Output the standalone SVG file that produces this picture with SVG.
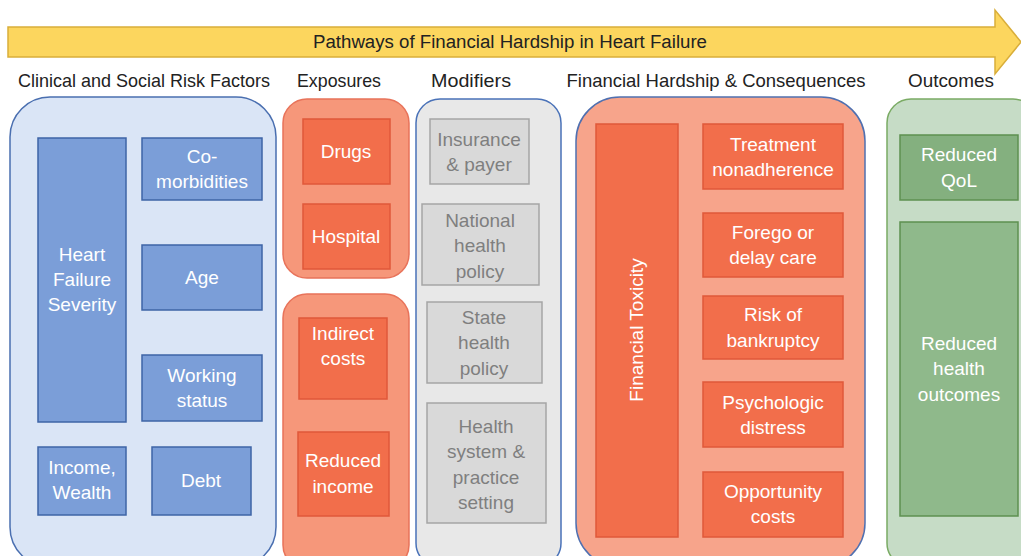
<svg xmlns="http://www.w3.org/2000/svg" width="1021" height="556" viewBox="0 0 1021 556">
  <style>
    text { font-family: "Liberation Sans", Arial, sans-serif; text-anchor: middle; }
    .hdr { font-size: 19px; fill: #222; }
    .title { font-size: 18px; fill: #222; }
    .lbl { font-size: 19px; fill: #ffffff; }
    .glbl { font-size: 19px; fill: #7f7f7f; }
    .pnl-blue { fill: #dae5f6; stroke: #4a6fb0; stroke-width: 1.5; }
    .pnl-exp { fill: #f6977a; stroke: #e8735a; stroke-width: 1.5; }
    .pnl-mod { fill: #e8e8e8; stroke: #4a72b8; stroke-width: 1.5; }
    .pnl-fin { fill: #f7a48b; stroke: #5070b0; stroke-width: 1.5; }
    .pnl-out { fill: #c6dcc6; stroke: #7aab64; stroke-width: 1.5; }
    .b-blue { fill: #7b9ed8; stroke: #3e64a6; stroke-width: 1.5; }
    .b-org { fill: #f26e4b; stroke: #e0583a; stroke-width: 1.5; }
    .b-gray { fill: #d9d9d9; stroke: #a5a5a5; stroke-width: 1.5; }
    .b-grn1 { fill: #84b07f; stroke: #5e9050; stroke-width: 1.5; }
    .b-grn2 { fill: #8fb98b; stroke: #5e9050; stroke-width: 1.5; }
  </style>

  <rect width="1021" height="556" fill="#ffffff"/>

  <!-- timeline arrow -->
  <g id="timeline">
    <path d="M8,27 H995 V10 L1021,42 L995,74 V57 H8 Z" fill="#fcd65e" stroke="#d9ae3a" stroke-width="1.5"/>
    <text class="title" x="510" y="48" textLength="394" lengthAdjust="spacingAndGlyphs">Pathways of Financial Hardship in Heart Failure</text>
  </g>

  <!-- column headings -->
  <g id="headings">
    <text class="hdr" x="144" y="87" textLength="252" lengthAdjust="spacingAndGlyphs">Clinical and Social Risk Factors</text>
    <text class="hdr" x="339" y="87" textLength="84" lengthAdjust="spacingAndGlyphs">Exposures</text>
    <text class="hdr" x="471" y="87" textLength="80" lengthAdjust="spacingAndGlyphs">Modifiers</text>
    <text class="hdr" x="716" y="87" textLength="299" lengthAdjust="spacingAndGlyphs">Financial Hardship &amp; Consequences</text>
    <text class="hdr" x="951" y="87" textLength="86" lengthAdjust="spacingAndGlyphs">Outcomes</text>
  </g>

  <!-- group panels -->
  <g id="panels">
    <rect id="panel-risk" class="pnl-blue" x="10" y="97" width="266" height="470" rx="40"/>
    <rect id="panel-exp-direct" class="pnl-exp" x="283" y="99" width="126" height="179" rx="24"/>
    <rect id="panel-exp-indirect" class="pnl-exp" x="283" y="294" width="126" height="275" rx="24"/>
    <rect id="panel-mod" class="pnl-mod" x="416" y="99" width="145" height="468" rx="24"/>
    <rect id="panel-fin" class="pnl-fin" x="576" y="97" width="289" height="470" rx="44"/>
    <rect id="panel-out" class="pnl-out" x="887" y="99" width="150" height="468" rx="24"/>
  </g>

  <!-- clinical and social risk factors -->
  <g id="hf-severity">
    <rect class="b-blue" x="38" y="138" width="88" height="284"/>
    <text class="lbl" x="82" y="261">Heart</text>
    <text class="lbl" x="82" y="286">Failure</text>
    <text class="lbl" x="82" y="311">Severity</text>
  </g>
  <g id="comorbidities">
    <rect class="b-blue" x="142" y="138" width="120" height="62"/>
    <text class="lbl" x="202" y="163">Co-</text>
    <text class="lbl" x="202" y="188">morbidities</text>
  </g>
  <g id="age">
    <rect class="b-blue" x="142" y="245" width="120" height="65"/>
    <text class="lbl" x="202" y="284">Age</text>
  </g>
  <g id="working-status">
    <rect class="b-blue" x="142" y="355" width="120" height="66"/>
    <text class="lbl" x="202" y="382">Working</text>
    <text class="lbl" x="202" y="407">status</text>
  </g>
  <g id="income-wealth">
    <rect class="b-blue" x="38" y="447" width="88" height="68"/>
    <text class="lbl" x="82" y="474">Income,</text>
    <text class="lbl" x="82" y="499">Wealth</text>
  </g>
  <g id="debt">
    <rect class="b-blue" x="152" y="447" width="99" height="68"/>
    <text class="lbl" x="201" y="487">Debt</text>
  </g>

  <!-- exposures -->
  <g id="drugs">
    <rect class="b-org" x="303" y="119" width="87" height="65"/>
    <text class="lbl" x="346" y="158">Drugs</text>
  </g>
  <g id="hospital">
    <rect class="b-org" x="303" y="204" width="87" height="65"/>
    <text class="lbl" x="346" y="243">Hospital</text>
  </g>
  <g id="indirect-costs">
    <rect class="b-org" x="299" y="318" width="88" height="81"/>
    <text class="lbl" x="343" y="340">Indirect</text>
    <text class="lbl" x="343" y="365">costs</text>
  </g>
  <g id="reduced-income">
    <rect class="b-org" x="298" y="432" width="91" height="84"/>
    <text class="lbl" x="343" y="467">Reduced</text>
    <text class="lbl" x="343" y="493">income</text>
  </g>

  <!-- modifiers -->
  <g id="insurance">
    <rect class="b-gray" x="430" y="119" width="99" height="65"/>
    <text class="glbl" x="479" y="146">Insurance</text>
    <text class="glbl" x="479" y="171">&amp; payer</text>
  </g>
  <g id="national-policy">
    <rect class="b-gray" x="422" y="204" width="117" height="81"/>
    <text class="glbl" x="480" y="227">National</text>
    <text class="glbl" x="480" y="252">health</text>
    <text class="glbl" x="480" y="278">policy</text>
  </g>
  <g id="state-policy">
    <rect class="b-gray" x="427" y="302" width="115" height="81"/>
    <text class="glbl" x="484" y="324">State</text>
    <text class="glbl" x="484" y="349">health</text>
    <text class="glbl" x="484" y="375">policy</text>
  </g>
  <g id="health-system">
    <rect class="b-gray" x="427" y="403" width="119" height="120"/>
    <text class="glbl" x="486" y="433">Health</text>
    <text class="glbl" x="486" y="458">system &amp;</text>
    <text class="glbl" x="486" y="484">practice</text>
    <text class="glbl" x="486" y="509">setting</text>
  </g>

  <!-- financial hardship and consequences -->
  <g id="financial-toxicity">
    <rect class="b-org" x="596" y="124" width="82" height="413"/>
    <text class="lbl" transform="translate(643,330) rotate(-90)" x="0" y="0">Financial Toxicity</text>
  </g>
  <g id="nonadherence">
    <rect class="b-org" x="703" y="124" width="140" height="65"/>
    <text class="lbl" x="773" y="151">Treatment</text>
    <text class="lbl" x="773" y="176">nonadherence</text>
  </g>
  <g id="forego-care">
    <rect class="b-org" x="703" y="213" width="140" height="64"/>
    <text class="lbl" x="773" y="239">Forego or</text>
    <text class="lbl" x="773" y="264">delay care</text>
  </g>
  <g id="bankruptcy">
    <rect class="b-org" x="703" y="296" width="140" height="63"/>
    <text class="lbl" x="773" y="321">Risk of</text>
    <text class="lbl" x="773" y="347">bankruptcy</text>
  </g>
  <g id="psych-distress">
    <rect class="b-org" x="703" y="382" width="140" height="65"/>
    <text class="lbl" x="773" y="409">Psychologic</text>
    <text class="lbl" x="773" y="434">distress</text>
  </g>
  <g id="opportunity-costs">
    <rect class="b-org" x="703" y="472" width="140" height="65"/>
    <text class="lbl" x="773" y="498">Opportunity</text>
    <text class="lbl" x="773" y="523">costs</text>
  </g>

  <!-- outcomes -->
  <g id="reduced-qol">
    <rect class="b-grn1" x="900" y="135" width="118" height="65"/>
    <text class="lbl" x="959" y="161">Reduced</text>
    <text class="lbl" x="959" y="187">QoL</text>
  </g>
  <g id="reduced-health">
    <rect class="b-grn2" x="900" y="222" width="118" height="294"/>
    <text class="lbl" x="959" y="350">Reduced</text>
    <text class="lbl" x="959" y="375">health</text>
    <text class="lbl" x="959" y="401">outcomes</text>
  </g>

  <!-- no connectors: the pathway is carried by the timeline arrow -->
  <g id="connectors"/>
</svg>
